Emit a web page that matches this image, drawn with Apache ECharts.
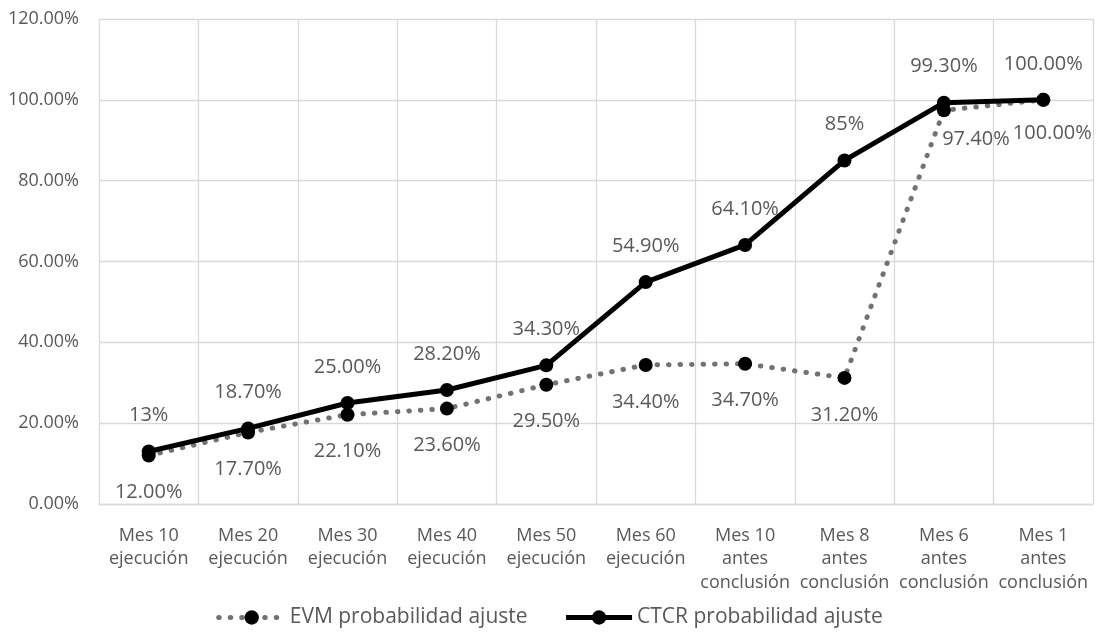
<!DOCTYPE html>
<html>
<head>
<meta charset="utf-8">
<script src="https://cdn.jsdelivr.net/npm/echarts@6/dist/echarts.min.js"></script>
<style>
  html, body { margin: 0; padding: 0; background: #ffffff; }
  #chart { width: 1099px; height: 634px; }
</style>
</head>
<body>
<div id="chart"></div>
<script>
// Periods on the horizontal axis
const categories = [
  'Mes 10\nejecución', 'Mes 20\nejecución', 'Mes 30\nejecución',
  'Mes 40\nejecución', 'Mes 50\nejecución', 'Mes 60\nejecución',
  'Mes 10\nantes\nconclusión', 'Mes 8\nantes\nconclusión',
  'Mes 6\nantes\nconclusión', 'Mes 1\nantes\nconclusión'
];

// Probabilities in percent
const evmValues = [12.0, 17.7, 22.1, 23.6, 29.5, 34.4, 34.7, 31.2, 97.4, 100.0];
const ctcrValues = [13.0, 18.7, 25.0, 28.2, 34.3, 54.9, 64.1, 85.0, 99.3, 100.0];

// Value labels as written on each point
const evmLabels = ['12.00%', '17.70%', '22.10%', '23.60%', '29.50%', '34.40%', '34.70%', '31.20%', '97.40%', '100.00%'];
const ctcrLabels = ['13%', '18.70%', '25.00%', '28.20%', '34.30%', '54.90%', '64.10%', '85%', '99.30%', '100.00%'];

// Y axis range
const yMin = 0, yMax = 120, yStep = 20;

const seriesNames = ['EVM probabilidad ajuste', 'CTCR probabilidad ajuste'];

const FONT = '"Open Sans", "Noto Sans", sans-serif';
const TEXT = '#595959';
const GRID = '#d9d9d9';

const evmLine = { color: '#767171', width: 5, type: [0.5, 11], cap: 'round' };
const ctcrLine = { color: '#000000', width: 5 };

// Label nudges for the two crowded points at the upper right
const evmLabelOffsets = { 8: [32, -8], 9: [9, -4] };

const evmData = evmValues.map((v, i) => {
  const item = { value: v };
  if (evmLabelOffsets[i]) item.label = { offset: evmLabelOffsets[i] };
  return item;
});

const chart = echarts.init(document.getElementById('chart'), null, { renderer: 'canvas' });

chart.setOption({
  animation: false,
  backgroundColor: '#ffffff',
  textStyle: { fontFamily: FONT },
  grid: { left: 99, right: 6, top: 19, bottom: 130, containLabel: false },
  legend: {
    bottom: 1,
    left: 'center',
    itemWidth: 66,
    itemHeight: 18,
    itemGap: 36,
    textStyle: { color: TEXT, fontSize: 21, fontFamily: FONT },
    data: [
      { name: seriesNames[0], lineStyle: { width: 5, type: [0.5, 11], cap: 'round', color: '#767171' } },
      { name: seriesNames[1], lineStyle: { width: 5, color: '#000000' } }
    ]
  },
  xAxis: {
    type: 'category',
    data: categories,
    boundaryGap: true,
    axisLine: { show: true, lineStyle: { color: GRID, width: 1.3 } },
    axisTick: { show: false },
    splitLine: { show: true, lineStyle: { color: GRID, width: 1.3 } },
    axisLabel: {
      color: TEXT, fontSize: 18, fontFamily: FONT,
      lineHeight: 23.5, margin: 20, interval: 0
    }
  },
  yAxis: {
    type: 'value',
    min: yMin, max: yMax, interval: yStep,
    axisLine: { show: false },
    axisTick: { show: false },
    splitLine: { show: true, lineStyle: { color: GRID, width: 1.3 } },
    axisLabel: {
      color: TEXT, fontSize: 18, fontFamily: FONT, margin: 20,
      formatter: v => v.toFixed(2) + '%'
    }
  },
  series: [
    {
      name: seriesNames[0],
      type: 'line',
      data: evmData,
      z: 2,
      symbol: 'circle',
      symbolSize: 14,
      itemStyle: { color: '#000000' },
      lineStyle: evmLine,
      label: {
        show: true, position: 'bottom', distance: 20,
        color: TEXT, fontSize: 20, fontFamily: FONT,
        formatter: p => evmLabels[p.dataIndex]
      }
    },
    {
      name: seriesNames[1],
      type: 'line',
      data: ctcrValues,
      z: 3,
      symbol: 'circle',
      symbolSize: 14,
      itemStyle: { color: '#000000' },
      lineStyle: ctcrLine,
      label: {
        show: true, position: 'top', distance: 19,
        color: TEXT, fontSize: 20, fontFamily: FONT,
        formatter: p => ctcrLabels[p.dataIndex]
      }
    }
  ]
});
</script>
</body>
</html>
